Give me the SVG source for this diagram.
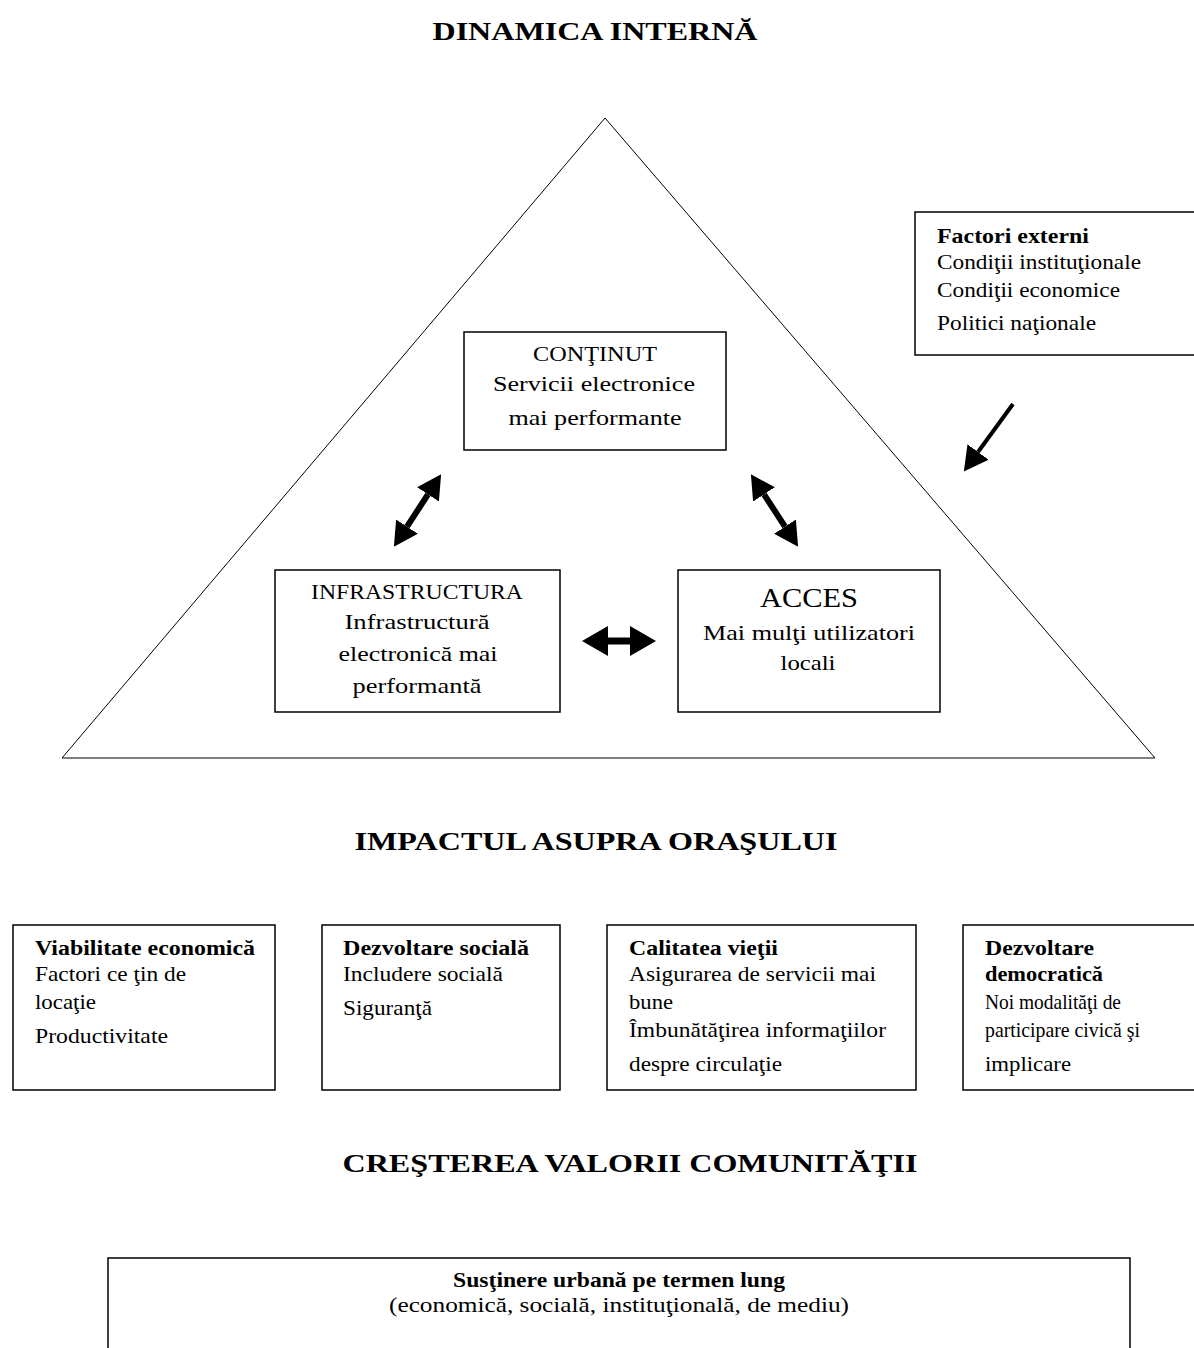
<svg xmlns="http://www.w3.org/2000/svg" width="1194" height="1348" viewBox="0 0 1194 1348">
<style>
text{font-family:"Liberation Serif","Times New Roman",serif;fill:#000;}
.t{font-size:25px;font-weight:bold;}
.b{font-size:21px;}
.bb{font-size:21px;font-weight:bold;}
.c{text-anchor:middle;}
.box{fill:#fff;stroke:#000;stroke-width:1.5;}
.conn{stroke:#000;fill:none;}
</style>
<defs>
<marker id="head" markerUnits="userSpaceOnUse" markerWidth="24" markerHeight="26" refX="0" refY="13" orient="auto-start-reverse" viewBox="0 0 24 26">
<path d="M0,0 L24,13 L0,26 z" fill="#000"/>
</marker>
<marker id="big" markerUnits="userSpaceOnUse" markerWidth="26" markerHeight="30" refX="0" refY="15" orient="auto-start-reverse" viewBox="0 0 26 30">
<path d="M0,0 L26,15 L0,30 z" fill="#000"/>
</marker>
</defs>
<rect width="1194" height="1348" fill="#fff"/>

<text class="t" x="595" y="40" text-anchor="middle" textLength="325" lengthAdjust="spacingAndGlyphs">DINAMICA INTERNĂ</text>

<g id="triangle">
<polygon points="605,118 62,758 1155,758" fill="none" stroke="#000" stroke-width="1"/>
</g>

<g id="continut">
<rect class="box" x="464" y="332" width="262" height="118"/>
<text class="b c" x="595" y="361" textLength="124" lengthAdjust="spacingAndGlyphs">CONŢINUT</text>
<text class="b c" x="594" y="391" textLength="202" lengthAdjust="spacingAndGlyphs">Servicii electronice</text>
<text class="b c" x="595" y="425" textLength="173" lengthAdjust="spacingAndGlyphs">mai performante</text>
</g>

<g id="infrastructura">
<rect class="box" x="275" y="570" width="285" height="142"/>
<text class="b c" x="417" y="599" textLength="212" lengthAdjust="spacingAndGlyphs">INFRASTRUCTURA</text>
<text class="b c" x="417" y="629" textLength="145" lengthAdjust="spacingAndGlyphs">Infrastructură</text>
<text class="b c" x="418" y="661" textLength="159" lengthAdjust="spacingAndGlyphs">electronică mai</text>
<text class="b c" x="417" y="693" textLength="129" lengthAdjust="spacingAndGlyphs">performantă</text>
</g>

<g id="acces">
<rect class="box" x="678" y="570" width="262" height="142"/>
<text class="c" x="809" y="607" style="font-size:27px" textLength="98" lengthAdjust="spacingAndGlyphs">ACCES</text>
<text class="b c" x="809" y="640" textLength="212" lengthAdjust="spacingAndGlyphs">Mai mulţi utilizatori</text>
<text class="b c" x="808" y="670" textLength="55" lengthAdjust="spacingAndGlyphs">locali</text>
</g>

<g id="factori-externi">
<rect class="box" x="915" y="212" width="285" height="143"/>
<text class="bb" x="937" y="243" textLength="152" lengthAdjust="spacingAndGlyphs">Factori externi</text>
<text class="b" x="937" y="269" textLength="204" lengthAdjust="spacingAndGlyphs">Condiţii instituţionale</text>
<text class="b" x="937" y="297" textLength="183" lengthAdjust="spacingAndGlyphs">Condiţii economice</text>
<text class="b" x="937" y="330" textLength="159" lengthAdjust="spacingAndGlyphs">Politici naţionale</text>
</g>

<g id="connectors">
<line class="conn" x1="428" y1="494.4" x2="407" y2="526.6" stroke-width="6" marker-start="url(#head)" marker-end="url(#head)"/>
<line class="conn" x1="764" y1="494.4" x2="785" y2="526.6" stroke-width="6" marker-start="url(#head)" marker-end="url(#head)"/>
<line class="conn" x1="608" y1="641" x2="630" y2="641" stroke-width="7" marker-start="url(#big)" marker-end="url(#big)"/>
<line class="conn" x1="1013" y1="404" x2="978" y2="452" stroke-width="4" marker-end="url(#head)"/>
</g>

<text class="t" x="596" y="850" text-anchor="middle" textLength="483" lengthAdjust="spacingAndGlyphs">IMPACTUL ASUPRA ORAŞULUI</text>

<g id="viabilitate">
<rect class="box" x="13" y="925" width="262" height="165"/>
<text class="bb" x="35" y="955" textLength="220" lengthAdjust="spacingAndGlyphs">Viabilitate economică</text>
<text class="b" x="35" y="981" textLength="151" lengthAdjust="spacingAndGlyphs">Factori ce ţin de</text>
<text class="b" x="35" y="1009" textLength="61" lengthAdjust="spacingAndGlyphs">locaţie</text>
<text class="b" x="35" y="1043" textLength="133" lengthAdjust="spacingAndGlyphs">Productivitate</text>
</g>

<g id="dezvoltare-sociala">
<rect class="box" x="322" y="925" width="238" height="165"/>
<text class="bb" x="343" y="955" textLength="186" lengthAdjust="spacingAndGlyphs">Dezvoltare socială</text>
<text class="b" x="343" y="981" textLength="160" lengthAdjust="spacingAndGlyphs">Includere socială</text>
<text class="b" x="343" y="1015" textLength="89" lengthAdjust="spacingAndGlyphs">Siguranţă</text>
</g>

<g id="calitatea-vietii">
<rect class="box" x="607" y="925" width="309" height="165"/>
<text class="bb" x="629" y="955" textLength="149" lengthAdjust="spacingAndGlyphs">Calitatea vieţii</text>
<text class="b" x="629" y="981" textLength="247" lengthAdjust="spacingAndGlyphs">Asigurarea de servicii mai</text>
<text class="b" x="629" y="1009" textLength="44" lengthAdjust="spacingAndGlyphs">bune</text>
<text class="b" x="629" y="1037" textLength="257" lengthAdjust="spacingAndGlyphs">Îmbunătăţirea informaţiilor</text>
<text class="b" x="629" y="1071" textLength="153" lengthAdjust="spacingAndGlyphs">despre circulaţie</text>
</g>

<g id="dezvoltare-democratica">
<rect class="box" x="963" y="925" width="240" height="165"/>
<text class="bb" x="985" y="955" textLength="109" lengthAdjust="spacingAndGlyphs">Dezvoltare</text>
<text class="bb" x="985" y="981" textLength="118" lengthAdjust="spacingAndGlyphs">democratică</text>
<text class="b" x="985" y="1009" textLength="136" lengthAdjust="spacingAndGlyphs">Noi modalităţi de</text>
<text class="b" x="985" y="1037" textLength="155" lengthAdjust="spacingAndGlyphs">participare civică şi</text>
<text class="b" x="985" y="1071" textLength="86" lengthAdjust="spacingAndGlyphs">implicare</text>
</g>

<text class="t" x="630" y="1172" text-anchor="middle" textLength="575" lengthAdjust="spacingAndGlyphs">CREŞTEREA VALORII COMUNITĂŢII</text>

<g id="sustinere">
<rect class="box" x="108" y="1258" width="1022" height="100"/>
<text class="bb c" x="619" y="1287" textLength="332" lengthAdjust="spacingAndGlyphs">Susţinere urbană pe termen lung</text>
<text class="b c" x="619" y="1312" textLength="460" lengthAdjust="spacingAndGlyphs">(economică, socială, instituţională, de mediu)</text>
</g>
</svg>
